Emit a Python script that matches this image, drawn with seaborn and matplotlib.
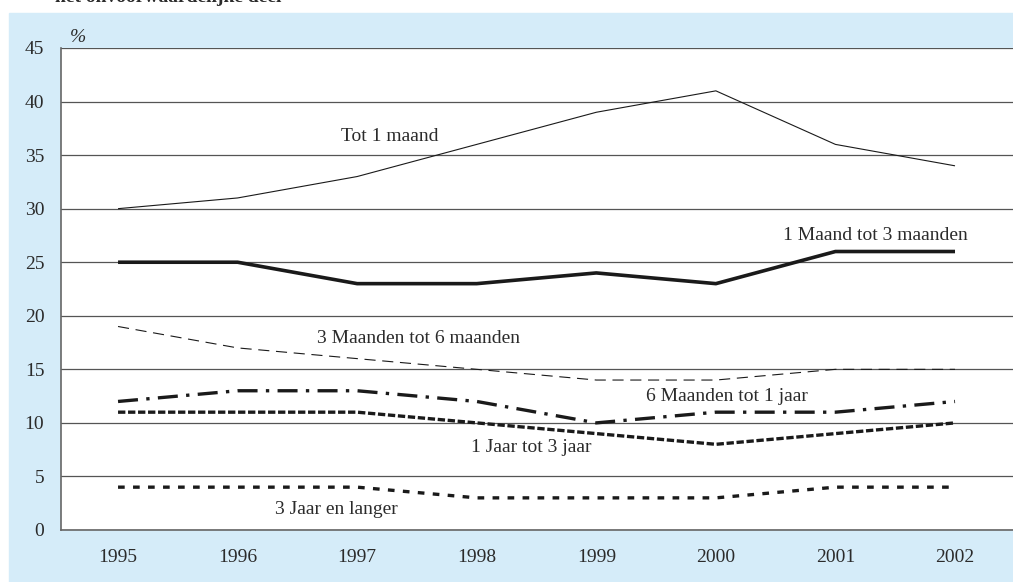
import matplotlib
matplotlib.use("Agg")
import matplotlib.pyplot as plt
import pandas as pd
import seaborn as sns

years = [1995, 1996, 1997, 1998, 1999, 2000, 2001, 2002]

tot_1_maand = [30, 31, 33, 36, 39, 41, 36, 34]
maand_1_3 = [25, 25, 23, 23, 24, 23, 26, 26]
maanden_3_6 = [19, 17, 16, 15, 14, 14, 15, 15]
maanden_6_1jaar = [12, 13, 13, 12, 10, 11, 11, 12]
jaar_1_3 = [11, 11, 11, 10, 9, 8, 9, 10]
jaar_3_langer = [4, 4, 4, 3, 3, 3, 4, 4]

series = {
    "Tot 1 maand": tot_1_maand,
    "1 Maand tot 3 maanden": maand_1_3,
    "3 Maanden tot 6 maanden": maanden_3_6,
    "6 Maanden tot 1 jaar": maanden_6_1jaar,
    "1 Jaar tot 3 jaar": jaar_1_3,
    "3 Jaar en langer": jaar_3_langer,
}

# line style per series: (linewidth, dash pattern or None)
styles = {
    "Tot 1 maand": (0.8, None),
    "1 Maand tot 3 maanden": (2.6, None),
    "3 Maanden tot 6 maanden": (0.8, (10, 6)),
    "6 Maanden tot 1 jaar": (2.4, (6, 2.5, 1, 2.5)),
    "1 Jaar tot 3 jaar": (2.4, (2.2, 0.8)),
    "3 Jaar en langer": (2.4, (2, 2.5)),
}

# label positions (data coords)
label_pos = {
    "Tot 1 maand": (1997.27, 36.7),
    "1 Maand tot 3 maanden": (2001.33, 27.5),
    "3 Maanden tot 6 maanden": (1997.51, 17.9),
    "6 Maanden tot 1 jaar": (2000.09, 12.5),
    "1 Jaar tot 3 jaar": (1998.46, 7.66),
    "3 Jaar en langer": (1996.83, 1.87),
}

df = pd.DataFrame([
    {"year": y, "value": v, "series": name}
    for name, vals in series.items()
    for y, v in zip(years, vals)
])

sns.set_style("white")
plt.rcParams["font.family"] = ["Liberation Serif", "DejaVu Serif"]

blue = "#d5ecf9"
text_col = "#2b2b2b"
fs = 14

fig = plt.figure(figsize=(10.13, 5.82), dpi=100, facecolor="white")
fig.patches.append(plt.Rectangle((9 / 1013, 0), 1, (582 - 13) / 582,
                                 transform=fig.transFigure, color=blue, zorder=-10))
# title of the source page, cut off by the top edge as in the original
fig.text(55 / 1013, 1.0 + 2 / 582, "het onvoorwaardelijke deel", fontsize=fs,
         fontweight="bold", color=text_col, ha="left", va="center")

ax = fig.add_axes([61 / 1013, 52 / 582, 1 - 61 / 1013, (530 - 48) / 582])
ax.set_facecolor("white")

for name in series:
    lw, dash = styles[name]
    sub = df[df["series"] == name]
    sns.lineplot(data=sub, x="year", y="value", ax=ax, color="#1a1a1a",
                 linewidth=lw, legend=False, zorder=3)
    line = ax.get_lines()[-1]
    if dash is not None:
        line.set_dashes(dash)
    line.set_solid_capstyle("butt")
    line.set_dash_capstyle("butt")
    lx, ly = label_pos[name]
    ax.text(lx, ly, name, fontsize=fs, color=text_col, ha="center", va="center", zorder=4)

ax.set_xlim(1994.523, 2002.485)
ax.set_ylim(0, 45)
ax.set_yticks(range(0, 46, 5))
ax.set_xticks(years)
ax.set_xticklabels([str(y) for y in years])
ax.yaxis.grid(True, color="#555555", linewidth=0.9)
ax.set_axisbelow(True)
ax.set_xlabel("")
ax.set_ylabel("")

for s in ["top", "right"]:
    ax.spines[s].set_visible(False)
for s in ["left", "bottom"]:
    ax.spines[s].set_color("#666666")
    ax.spines[s].set_linewidth(1.2)

ax.tick_params(axis="x", direction="out", length=8, width=1, color="#333333",
               labelsize=fs, labelcolor=text_col, pad=6)
ax.tick_params(axis="y", length=0, labelsize=fs, labelcolor=text_col, pad=12)

ax.text(70 / 1013 - 61 / 1013, 1.0 + 11 / 482, "%", transform=ax.transAxes,
        fontsize=fs, style="italic", color=text_col, ha="left", va="center")

fig.savefig("out.png", dpi=100, facecolor="white")
